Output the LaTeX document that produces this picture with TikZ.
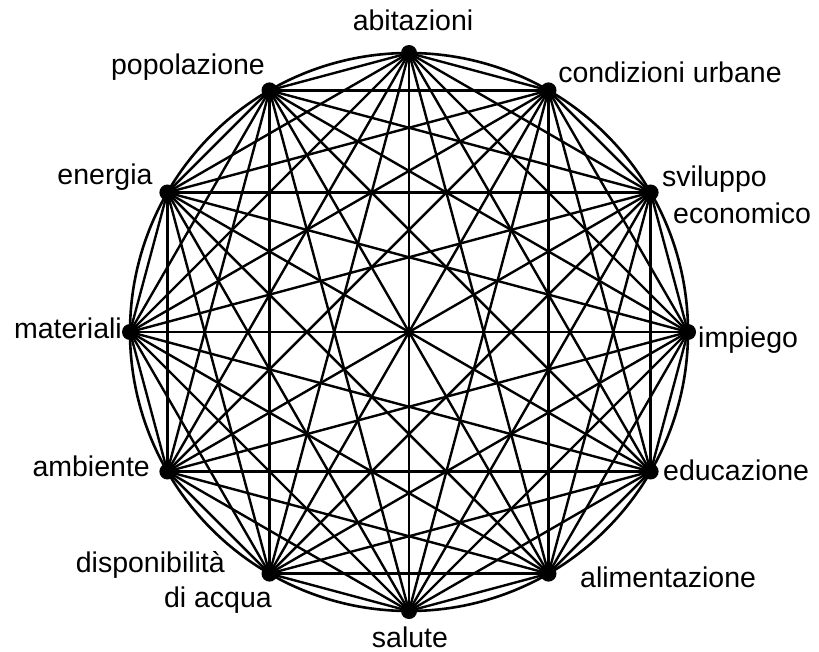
\documentclass[tikz,border=0pt]{standalone}
\usepackage{fontspec}
\setmainfont{Liberation Sans}
\begin{document}
\begin{tikzpicture}[x=1pt,y=-1pt,
  lbl/.style={font=\fontsize{28.5}{32}\selectfont, inner sep=0pt},
  chord/.style={line width=2.4pt, line cap=round},
  vdot/.style={circle, fill=black, inner sep=0pt, minimum size=16pt}]
\useasboundingbox (0,0) rectangle (819,652);
\node[circle, draw, line width=2.6pt, minimum size=558pt, inner sep=0pt] (ring) at (409,332) {};
\foreach \i in {0,...,11}
  \node[vdot] (v\i) at ({409+279*cos(\i*30)},{332-279*sin(\i*30)}) {};
\foreach \i in {0,...,10}{
  \pgfmathtruncatemacro\s{\i+1}
  \foreach \j in {\s,...,11}
    \draw[chord] (v\i.center) -- (v\j.center);
}
\node[lbl] (l3) at (413,20) {abitazioni};
\node[lbl] (l4) at (670,72) {condizioni urbane};
\node[lbl] (l2) at (188,67) {popolazione};
\node[lbl] (l5) at (105,177) {energia};
\node[lbl, anchor=west] (l1a) at (662,179) {sviluppo};
\node[lbl, anchor=west] (l1b) at (673,213) {economico};
\node[lbl, anchor=west] (l0) at (698,340) {impiego};
\node[lbl, anchor=east] (l6) at (122,328) {materiali};
\node[lbl, anchor=west] (l11) at (663,470) {educazione};
\node[lbl, anchor=east] (l7) at (150,466) {ambiente};
\node[lbl, anchor=west] (l10) at (580,577) {alimentazione};
\node[lbl, anchor=east] (l8a) at (225,565) {disponibilità};
\node[lbl, anchor=east] (l8b) at (272,600) {di acqua};
\node[lbl] (l9) at (410,637) {salute};
\end{tikzpicture}
\end{document}
